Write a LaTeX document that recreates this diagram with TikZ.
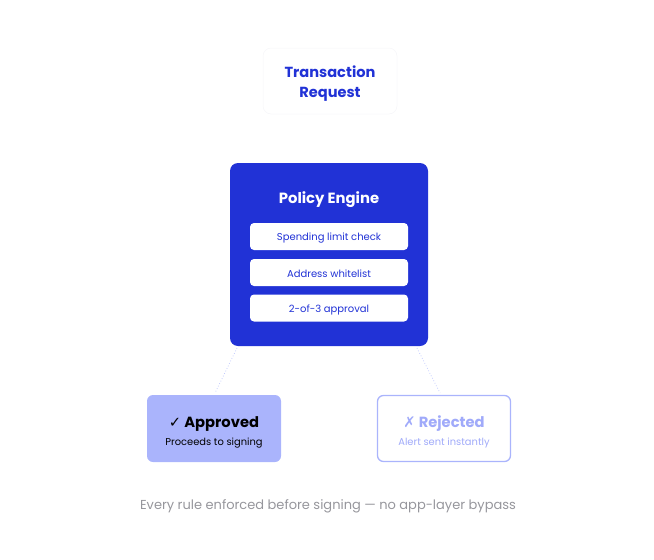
\documentclass[tikz,border=0pt]{standalone}
\usepackage{fontspec}
\setmainfont{Poppins}
\newfontfamily\symfont{DejaVu Sans}
\definecolor{pblue}{RGB}{33,50,214}
\definecolor{plav}{RGB}{170,180,252}
\definecolor{plavtxt}{RGB}{160,170,250}
\definecolor{pgray}{RGB}{150,150,156}
\definecolor{pfaint}{RGB}{246,246,249}
\tikzset{
  x=1pt,y=-1pt,
  inner/.style={draw=none,fill=white,rounded corners=4pt,minimum width=158pt,minimum height=27pt,inner sep=0pt},
  innertxt/.style={text=pblue,font=\fontsize{10}{12}\selectfont},
  link/.style={draw=plav!70,line width=0.8pt,dotted},
}
\begin{document}
\begin{tikzpicture}
\useasboundingbox (0,0) rectangle (654,560);
% Transaction request
\node[draw=pfaint,line width=0.5pt,fill=white,rounded corners=8pt,minimum width=134pt,minimum height=66pt,inner sep=0pt] (tr) at (330,81) {};
\node[text=pblue,font=\fontsize{14.6}{20}\selectfont\bfseries,align=center] (trt) at (330,84) {Transaction\\Request};
% Policy engine
\node[fill=pblue,rounded corners=8pt,minimum width=198pt,minimum height=183pt,inner sep=0pt] (pe) at (329,254.5) {};
\node[text=white,font=\fontsize{14.8}{16}\selectfont\bfseries] (pet) at (329,200) {Policy Engine};
\node[inner] (r1) at (329,236.5) {};
\node[inner] (r2) at (329,272.5) {};
\node[inner] (r3) at (329,308) {};
\node[innertxt] (r1t) at (329,238) {Spending limit check};
\node[innertxt] (r2t) at (329,274) {Address whitelist};
\node[innertxt] (r3t) at (329,309.5) {2-of-3 approval};
% outcomes
\node[fill=plav,rounded corners=6pt,minimum width=134pt,minimum height=67pt,inner sep=0pt] (ap) at (214,428.5) {};
\node[font=\fontsize{14.7}{16}\selectfont\bfseries,text=black] (apt) at (214,424) {{\symfont\mdseries ✓} Approved};
\node[font=\fontsize{9.9}{11}\selectfont,text=black] (aps) at (214,443) {Proceeds to signing};
\node[draw=plav,line width=1.3pt,fill=white,rounded corners=6pt,minimum width=133pt,minimum height=66pt,inner sep=0pt] (rj) at (444,428.5) {};
\node[font=\fontsize{14.7}{16}\selectfont\bfseries,text=plavtxt] (rjt) at (444,424) {{\symfont\mdseries ✗} Rejected};
\node[font=\fontsize{9.9}{11}\selectfont,text=plavtxt] (rjs) at (444,443) {Alert sent instantly};
% connectors
\coordinate (c1) at (237,348);
\coordinate (c2) at (215,393);
\coordinate (c3) at (417,348);
\coordinate (c4) at (440,393);
\draw[link] (c1) -- (c2);
\draw[link] (c3) -- (c4);
% footer
\node[text=pgray,font=\fontsize{13}{15}\selectfont] (ft) at (328,506) {Every rule enforced before signing — no app-layer bypass};
\end{tikzpicture}
\end{document}
